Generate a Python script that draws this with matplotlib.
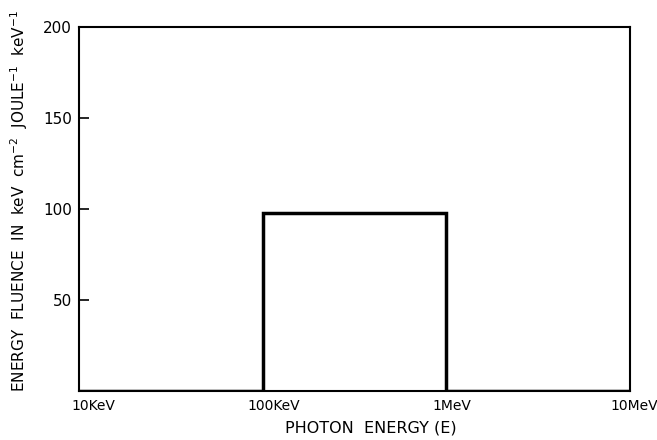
import matplotlib.pyplot as plt
from matplotlib.transforms import ScaledTranslation

# photon energy bin edges (eV) and energy fluence per bin
edges = [1e4, 1e5, 1e6, 1e7]
fluence = [0, 98, 0]

xtick_vals = [1e4, 1e5, 1e6, 1e7]
xtick_labels = ["10KeV", "100KeV", "1MeV", "10MeV"]
ytick_vals = [50, 100, 150, 200]

plt.rcParams['font.family'] = ['DejaVu Sans']

fig = plt.figure(figsize=(6.57, 4.40), dpi=100)
ax = fig.add_axes([0.120, 0.111, 0.839, 0.828])

ax.stairs(fluence, edges, color='black', linewidth=2.5, baseline=0)

ax.set_xscale('log')
ax.set_xlim(1e4, 1e7)
ax.set_ylim(0, 200)

ax.set_xticks(xtick_vals)
ax.set_xticklabels(xtick_labels, fontsize=10)
ax.minorticks_off()
ax.tick_params(axis='x', length=0, pad=6)
# labels in the original sit a little right of their decade
for lab, dx in zip(ax.get_xticklabels(), [15, 11, 6, 4]):
    lab.set_transform(lab.get_transform() + ScaledTranslation(dx / 100, 0, fig.dpi_scale_trans))

ax.set_yticks(ytick_vals)
ax.set_yticklabels([str(v) for v in ytick_vals], fontsize=11)
ax.tick_params(axis='y', direction='in', length=7, width=1.2, pad=5)

for s in ax.spines.values():
    s.set_linewidth(1.5)

ax.set_xlabel("PHOTON  ENERGY (E)", fontsize=11.5)
ax.xaxis.set_label_coords(0.53, -0.08)
ax.set_ylabel("ENERGY  FLUENCE  IN  keV  cm$^{-2}$  JOULE$^{-1}$  keV$^{-1}$",
              fontsize=11)
ax.yaxis.set_label_coords(-0.088, 0.522)

plt.savefig("out.png", dpi=100)
plt.close(fig)
